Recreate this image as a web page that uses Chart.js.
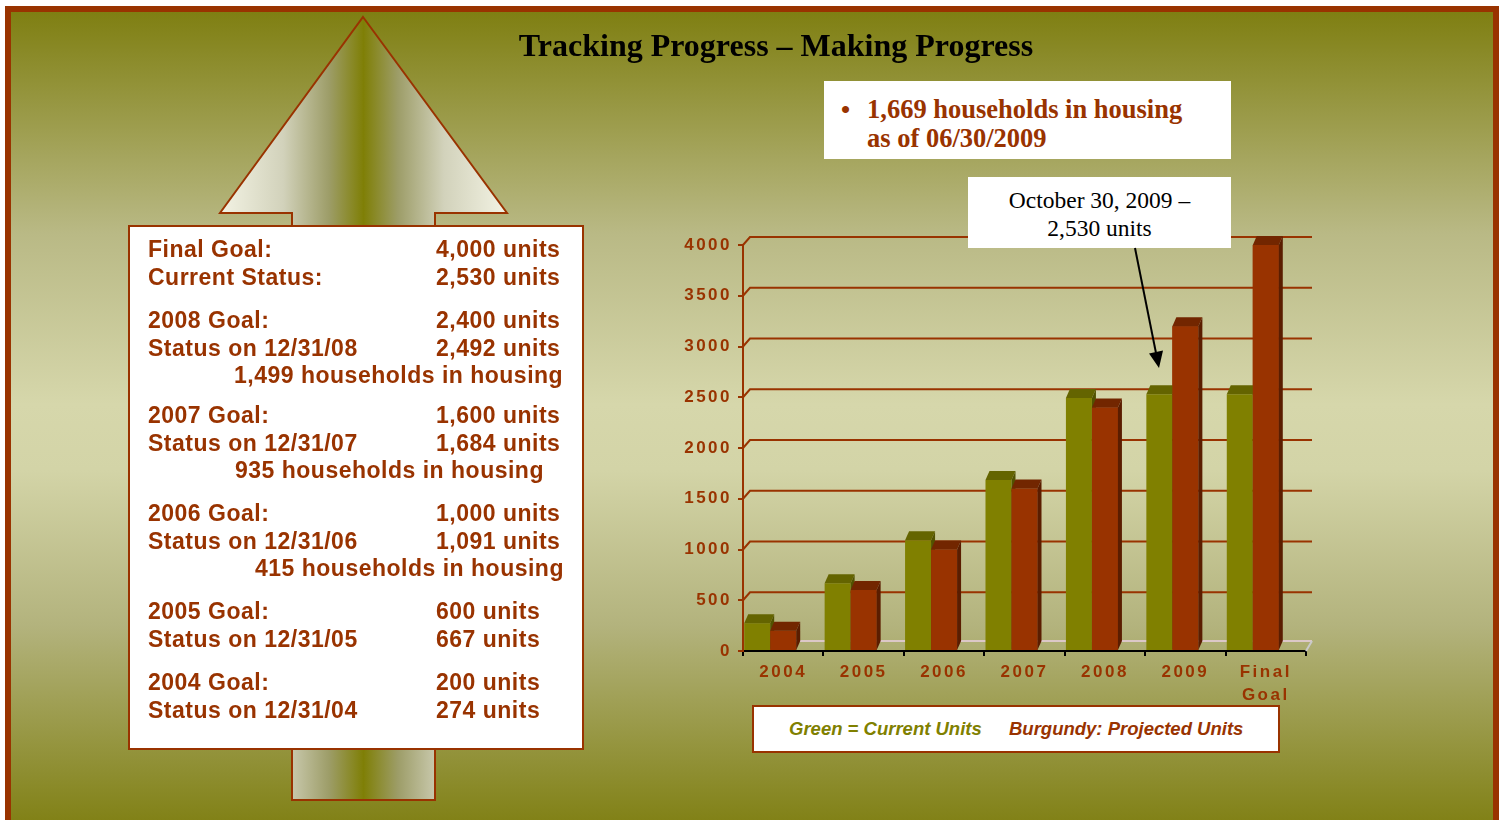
<!DOCTYPE html>
<html lang="en">
<head>
<meta charset="UTF-8">
<title>Tracking Progress – Making Progress</title>
<style>
  html, body { margin: 0; padding: 0; background: #fff; }
  body {
    width: 1502px; height: 820px; position: relative; overflow: hidden;
    font-family: "Liberation Sans", Arial, sans-serif;
  }
  .frame {
    position: absolute; left: 5px; top: 6px; width: 1494px; height: 830px;
    box-sizing: border-box; border: 6px solid #993300;
    background: linear-gradient(to bottom, #7f7f12 0%, #b9b985 27%, #d6d7ab 48%, #d3d4a7 56%, #b3b37d 75%, #7f7f12 100%);
  }
  .title {
    position: absolute; left: 276px; top: 25px; width: 1000px; text-align: center;
    font-family: "Liberation Serif", "Times New Roman", serif; font-weight: bold;
    font-size: 32px; line-height: 40px; color: #000; z-index: 3;
  }
  #arrow { position: absolute; left: 0; top: 0; z-index: 1; }
  .notes {
    position: absolute; left: 128px; top: 225px; width: 456px; height: 525px;
    box-sizing: border-box; border: 2px solid #993300; background: #fff; z-index: 2;
  }
  .row {
    position: absolute; font-weight: bold; font-size: 23px; line-height: 28px;
    letter-spacing: 0.5px; color: #993300; white-space: nowrap; z-index: 3;
  }
  #chart { position: absolute; left: 0; top: 0; z-index: 2; }
  .info {
    position: absolute; left: 824px; top: 81px; width: 407px; height: 78px;
    background: #fff; z-index: 3;
    font-family: "Liberation Serif", "Times New Roman", serif; font-weight: bold;
    font-size: 26.5px; line-height: 29px; color: #993300;
  }
  .info .bullet { position: absolute; left: 17px; top: 14px; font-size: 26px; }
  .info .txt { position: absolute; left: 43px; top: 14px; white-space: nowrap; }
  .note {
    position: absolute; left: 968px; top: 177px; width: 263px; height: 71px;
    background: #fff; z-index: 3; text-align: center;
    font-family: "Liberation Serif", "Times New Roman", serif;
    font-size: 23.5px; line-height: 28px; color: #000;
  }
  .note div { padding-top: 9px; }
  #pointer { position: absolute; left: 0; top: 0; z-index: 4; }
  .legend {
    position: absolute; left: 752px; top: 705px; width: 528px; height: 48px;
    box-sizing: border-box; border: 2px solid #993300; background: #fff; z-index: 3;
    font-weight: bold; font-style: italic; font-size: 18.5px; line-height: 44px;
  }
  .legend span { position: absolute; top: 0; white-space: nowrap; }
</style>
<script src="https://cdn.jsdelivr.net/npm/chart.js"></script>
</head>
<body>
  <div class="frame"></div>
  <div class="title">Tracking Progress – Making Progress</div>

  <svg id="arrow" width="1502" height="820">
    <defs>
      <linearGradient id="arrowFill" gradientUnits="userSpaceOnUse" x1="220" y1="0" x2="507" y2="0">
        <stop offset="0" stop-color="#f3f3e4"/>
        <stop offset="0.22" stop-color="#d2d2bb"/>
        <stop offset="0.38" stop-color="#9d9d68"/>
        <stop offset="0.5" stop-color="#7f7f06"/>
        <stop offset="0.62" stop-color="#9d9d68"/>
        <stop offset="0.78" stop-color="#d2d2bb"/>
        <stop offset="1" stop-color="#f3f3e4"/>
      </linearGradient>
    </defs>
    <polygon points="363,17 507,213 435,213 435,800 292,800 292,213 220,213"
             fill="url(#arrowFill)" stroke="#993300" stroke-width="2"/>
  </svg>

  <div class="notes"></div>
  <div class="row" style="left:148px;top:235px">Final Goal:</div>
  <div class="row" style="left:436px;top:235px">4,000 units</div>
  <div class="row" style="left:148px;top:263px">Current Status:</div>
  <div class="row" style="left:436px;top:263px">2,530 units</div>
  <div class="row" style="left:148px;top:306px">2008 Goal:</div>
  <div class="row" style="left:436px;top:306px">2,400 units</div>
  <div class="row" style="left:148px;top:334px">Status on 12/31/08</div>
  <div class="row" style="left:436px;top:334px">2,492 units</div>
  <div class="row" style="left:234px;top:361px">1,499 households in housing</div>
  <div class="row" style="left:148px;top:401px">2007 Goal:</div>
  <div class="row" style="left:436px;top:401px">1,600 units</div>
  <div class="row" style="left:148px;top:429px">Status on 12/31/07</div>
  <div class="row" style="left:436px;top:429px">1,684 units</div>
  <div class="row" style="left:235px;top:456px">935 households in housing</div>
  <div class="row" style="left:148px;top:499px">2006 Goal:</div>
  <div class="row" style="left:436px;top:499px">1,000 units</div>
  <div class="row" style="left:148px;top:527px">Status on 12/31/06</div>
  <div class="row" style="left:436px;top:527px">1,091 units</div>
  <div class="row" style="left:255px;top:554px">415 households in housing</div>
  <div class="row" style="left:148px;top:597px">2005 Goal:</div>
  <div class="row" style="left:436px;top:597px">600 units</div>
  <div class="row" style="left:148px;top:625px">Status on 12/31/05</div>
  <div class="row" style="left:436px;top:625px">667 units</div>
  <div class="row" style="left:148px;top:668px">2004 Goal:</div>
  <div class="row" style="left:436px;top:668px">200 units</div>
  <div class="row" style="left:148px;top:696px">Status on 12/31/04</div>
  <div class="row" style="left:436px;top:696px">274 units</div>

  <canvas id="chart" width="1502" height="820"></canvas>

  <div class="info">
    <span class="bullet">&#8226;</span>
    <div class="txt">1,669 households in housing<br>as of 06/30/2009</div>
  </div>
  <div class="note"><div>October 30, 2009 –<br>2,530 units</div></div>

  <svg id="pointer" width="1502" height="820">
    <line x1="1135" y1="248" x2="1156" y2="353" stroke="#000" stroke-width="2"/>
    <polygon points="1159,368 1163,350.5 1149,353.5" fill="#000"/>
  </svg>

  <div class="legend">
    <span style="left:35px;color:#808000">Green = Current Units</span>
    <span style="left:255px;color:#993300">Burgundy: Projected Units</span>
  </div>

<script>
// chart data
const years = ['2004', '2005', '2006', '2007', '2008', '2009', ['Final', 'Goal']];
const currentUnits = [274, 667, 1091, 1684, 2492, 2530, 2530];
const projectedUnits = [200, 600, 1000, 1600, 2400, 3200, 4000];
const spacer = [null, null, null, null, null, null, null];
const yMin = 0, yMax = 4000, yStep = 500;

const brown = '#993300';
const labelFont = { family: '"Liberation Sans", Arial, sans-serif', size: 17, weight: 'bold', lineHeight: 1.4 };

// draws the 3D wall, floor and the tops / sides of the bars
const depthPlugin = {
    id: 'depth',
    beforeDraw(chart) {
        chart.ctx.letterSpacing = '2.5px';
    },
    beforeDatasetsDraw(chart) {
        const ctx = chart.ctx;
        const { left, right, bottom } = chart.chartArea;
        const yScale = chart.scales.y;
        ctx.save();
        ctx.lineWidth = 2;
        // floor back edge
        ctx.strokeStyle = '#dcc8c8';
        ctx.beginPath();
        ctx.moveTo(left + 6, bottom - 10);
        ctx.lineTo(right + 6, bottom - 10);
        ctx.stroke();
        ctx.strokeStyle = '#cacaca';
        ctx.beginPath();
        ctx.moveTo(right + 6, bottom - 10);
        ctx.lineTo(right, bottom);
        ctx.stroke();
        // back wall grid lines
        ctx.strokeStyle = brown;
        yScale.ticks.forEach(t => {
            if (t.value === 0) return;
            const py = yScale.getPixelForValue(t.value);
            ctx.beginPath();
            ctx.moveTo(left, py);
            ctx.lineTo(left + 7, py - 8);
            ctx.lineTo(right + 6, py - 8);
            ctx.stroke();
        });
        ctx.restore();
    },
    afterDatasetsDraw(chart) {
        const ctx = chart.ctx;
        const green = chart.getDatasetMeta(0).data;
        const red = chart.getDatasetMeta(1).data;
        const dx = 4, dy = 9;

        function extras(bar, topColor, sideColor) {
            const p = bar.getProps(['x', 'y', 'base', 'width'], true);
            const l = p.x - p.width / 2, r = p.x + p.width / 2;
            ctx.fillStyle = topColor;
            ctx.beginPath();
            ctx.moveTo(l, p.y);
            ctx.lineTo(l + dx, p.y - dy);
            ctx.lineTo(r + dx, p.y - dy);
            ctx.lineTo(r, p.y);
            ctx.closePath();
            ctx.fill();
            ctx.fillStyle = sideColor;
            ctx.beginPath();
            ctx.moveTo(r, p.y);
            ctx.lineTo(r + dx, p.y - dy);
            ctx.lineTo(r + dx, p.base - dy);
            ctx.lineTo(r, p.base);
            ctx.closePath();
            ctx.fill();
        }

        ctx.save();
        for (let i = 0; i < years.length; i++) {
            extras(green[i], '#646400', '#525200');
            const p = red[i].getProps(['x', 'y', 'base', 'width'], true);
            ctx.fillStyle = brown;
            ctx.fillRect(p.x - p.width / 2, p.y, p.width, p.base - p.y);
            extras(red[i], '#722600', '#5a1d00');
        }
        ctx.restore();
    },
    afterDraw(chart) {
        chart.ctx.letterSpacing = '0px';
    }
};

new Chart(document.getElementById('chart'), {
    type: 'bar',
    data: {
        labels: years,
        datasets: [
            { label: 'Current Units', data: currentUnits, backgroundColor: '#808000' },
            { label: 'Projected Units', data: projectedUnits, backgroundColor: brown },
            { label: '', data: spacer, backgroundColor: 'rgba(0,0,0,0)' }
        ]
    },
    options: {
        responsive: false,
        animation: false,
        devicePixelRatio: 1,
        categoryPercentage: 0.97,
        barPercentage: 1,
        layout: { padding: { left: 683, right: 196, top: 245, bottom: 109 } },
        plugins: { legend: { display: false }, tooltip: { enabled: false } },
        scales: {
            x: {
                z: 1,
                afterFit(scale) { scale.height = 60; },
                grid: { drawOnChartArea: false, color: '#000', lineWidth: 2, tickLength: 5 },
                border: { color: '#000', width: 2 },
                ticks: { color: brown, font: labelFont, padding: 4, maxRotation: 0 }
            },
            y: {
                min: yMin,
                max: yMax,
                afterFit(scale) { scale.width = 60; },
                grid: { drawOnChartArea: false, color: brown, lineWidth: 2, tickLength: 5 },
                border: { color: brown, width: 2 },
                ticks: { stepSize: yStep, color: brown, font: labelFont, padding: 6, callback: v => String(v) }
            }
        }
    },
    plugins: [depthPlugin]
});
</script>
</body>
</html>
